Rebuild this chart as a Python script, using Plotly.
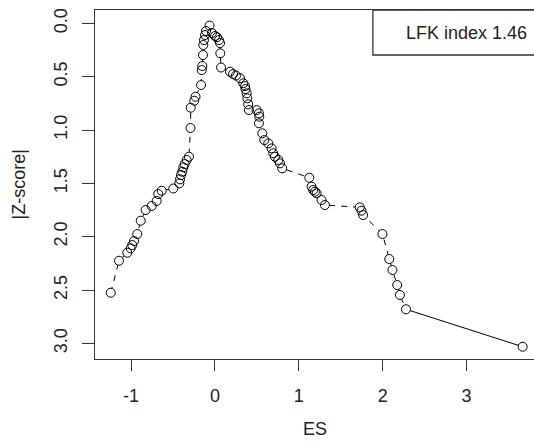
import plotly.graph_objects as go

# Effect sizes (ES) and |Z-score|, in plotting order
es = [-1.241, -1.143, -1.044, -1.004, -0.985, -0.964, -0.925, -0.884, -0.825, -0.753,
      -0.694, -0.675, -0.634, -0.496, -0.424, -0.416, -0.404, -0.389, -0.377, -0.360,
      -0.336, -0.309, -0.291, -0.288, -0.246, -0.231, -0.165, -0.157, -0.150, -0.142,
      -0.138, -0.130, -0.118, -0.106, -0.064, -0.035, 0.001, 0.025, 0.049, 0.061,
      0.064, 0.073, 0.180, 0.216, 0.251, 0.299, 0.338, 0.359, 0.365, 0.379,
      0.387, 0.397, 0.406, 0.497, 0.525, 0.529, 0.525, 0.565, 0.589, 0.636,
      0.676, 0.695, 0.715, 0.755, 0.776, 0.802, 1.125, 1.152, 1.171, 1.192,
      1.212, 1.271, 1.311, 1.727, 1.748, 1.767, 1.997, 2.078, 2.116, 2.173,
      2.205, 2.277, 3.668]
zscore = [2.525, 2.225, 2.150, 2.109, 2.078, 2.040, 1.975, 1.850, 1.750, 1.712,
          1.665, 1.600, 1.569, 1.548, 1.500, 1.462, 1.422, 1.391, 1.350, 1.319,
          1.281, 1.250, 0.981, 0.791, 0.725, 0.688, 0.578, 0.438, 0.400, 0.297,
          0.203, 0.157, 0.110, 0.072, 0.021, 0.091, 0.119, 0.130, 0.157, 0.185,
          0.281, 0.414, 0.453, 0.475, 0.489, 0.515, 0.562, 0.588, 0.616, 0.656,
          0.703, 0.759, 0.813, 0.813, 0.844, 0.875, 0.937, 1.031, 1.094, 1.125,
          1.172, 1.218, 1.250, 1.281, 1.312, 1.359, 1.447, 1.531, 1.562, 1.578,
          1.593, 1.656, 1.703, 1.724, 1.756, 1.797, 1.975, 2.209, 2.312, 2.453,
          2.546, 2.680, 3.031]
x_ticks = [-1, 0, 1, 2, 3]
y_ticks = [0.0, 0.5, 1.0, 1.5, 2.0, 2.5, 3.0]
y_tick_labels = ["0.0", "0.5", "1.0", "1.5", "2.0", "2.5", "3.0"]
lfk_label = "LFK index 1.46"

FONT = "Liberation Sans, Arial, sans-serif"
INK = "#222222"

fig = go.Figure()
# dashed connecting line (all but the last segment)
fig.add_trace(go.Scatter(x=es[:-1], y=zscore[:-1], mode="lines",
                         line=dict(color="black", width=1, dash="6px,6px"),
                         hoverinfo="skip", showlegend=False))
# solid last segment
fig.add_trace(go.Scatter(x=es[-2:], y=zscore[-2:], mode="lines",
                         line=dict(color="black", width=1),
                         hoverinfo="skip", showlegend=False))
# white discs that hide the line inside each circle
fig.add_trace(go.Scatter(x=es, y=zscore, mode="markers",
                         marker=dict(symbol="circle", size=9, color="white",
                                     line=dict(width=0)),
                         hoverinfo="skip", showlegend=False))
# open circles (all rings visible, overlaps included)
fig.add_trace(go.Scatter(x=es, y=zscore, mode="markers",
                         marker=dict(symbol="circle-open", size=9, color="black",
                                     line=dict(color="black", width=1)),
                         showlegend=False))

fig.update_layout(
    width=534, height=447,
    margin=dict(l=95, r=0, t=10, b=88),
    paper_bgcolor="white", plot_bgcolor="white",
    font=dict(family=FONT, size=18, color=INK),
    xaxis=dict(range=[-1.429, 3.803], tickvals=x_ticks, ticktext=[str(v) for v in x_ticks],
               showgrid=False, zeroline=False, showline=True, mirror=True,
               linecolor="#333333", linewidth=1.3, ticks="outside", ticklen=11,
               tickcolor="#333333", tickwidth=1.3, ticklabelstandoff=9),
    yaxis=dict(range=[3.146, -0.125], tickvals=y_ticks, ticktext=y_tick_labels,
               showgrid=False, zeroline=False, showline=True,
               linecolor="#333333", linewidth=1.3, ticks="outside", ticklen=12,
               tickcolor="#333333", tickwidth=1.3, tickangle=-90, ticklabelstandoff=8),
)

# axis titles
fig.add_annotation(text="ES", xref="paper", yref="paper", x=0.5, y=0,
                   xanchor="center", yanchor="middle", yshift=-70, showarrow=False,
                   font=dict(family=FONT, size=18, color=INK))
fig.add_annotation(text="|Z-score|", xref="paper", yref="paper", x=0, y=0.5,
                   xanchor="center", yanchor="middle", xshift=-77, textangle=-90,
                   showarrow=False, font=dict(family=FONT, size=18, color=INK))

# legend box with LFK index
fig.add_shape(type="rect", xref="paper", yref="paper", x0=0.633, x1=1.02, y0=0.871, y1=1.0,
              line=dict(color="#333333", width=1.3), fillcolor="rgba(0,0,0,0)")
fig.add_annotation(text=lfk_label, xref="paper", yref="paper", x=0.9886, y=0.934,
                   xanchor="right", yanchor="middle", showarrow=False,
                   font=dict(family=FONT, size=18, color=INK))

fig.write_html("out.html")
